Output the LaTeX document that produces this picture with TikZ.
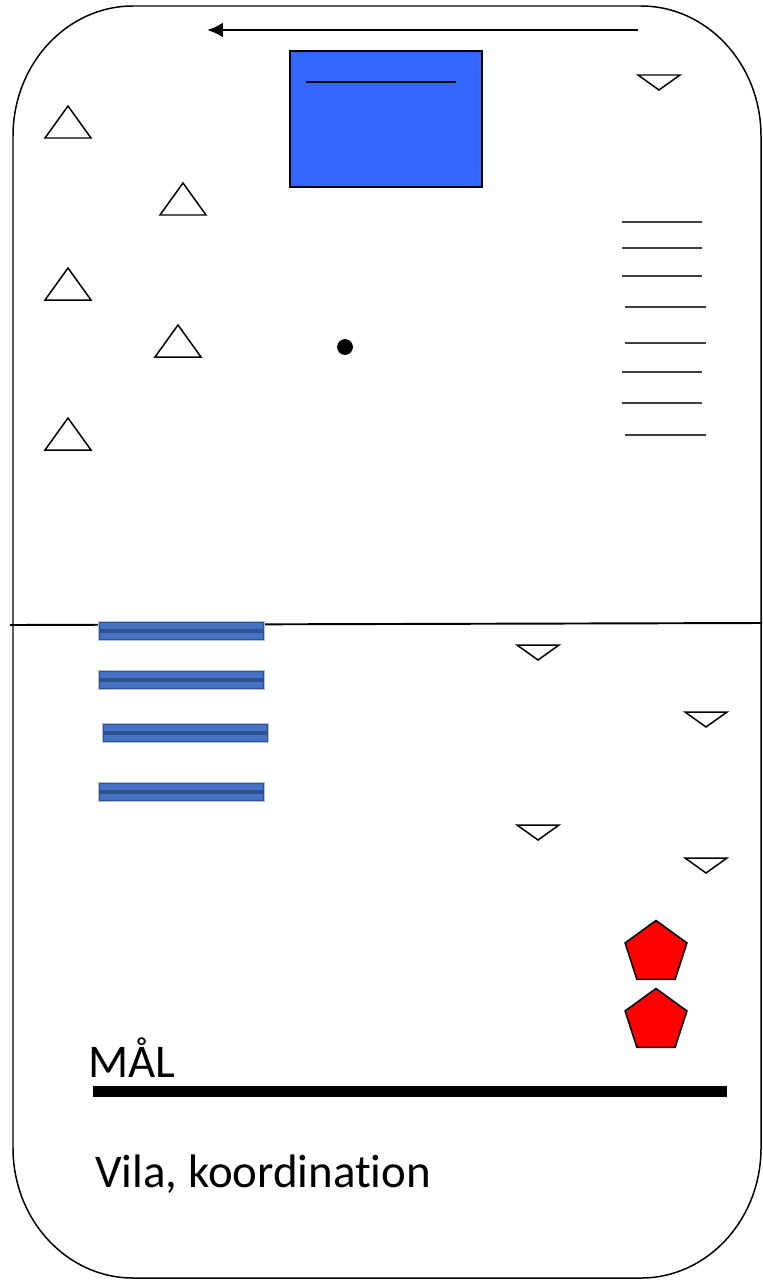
\documentclass[tikz,border=0pt]{standalone}
\usepackage{fontspec}
\setmainfont{Carlito}[RawFeature={-liga,-calt,-dlig,-clig}]
\usetikzlibrary{arrows.meta,shapes.geometric}
\definecolor{padBlue}{HTML}{3366FF}
\definecolor{benchBlue}{HTML}{4472C4}
\definecolor{benchEdge}{HTML}{2F528F}
\definecolor{benchLight}{HTML}{B4C3DE}
\definecolor{coneRed}{HTML}{FF0000}

\begin{document}
\begin{tikzpicture}[x=0.02cm, y=-0.02cm,
    upcone/.style={draw, line width=0.85pt, fill=white},
    flatcone/.style={draw, line width=0.85pt, fill=white},
    benchbar/.style={fill=benchBlue, draw=benchEdge, line width=0.75pt},
    redcone/.style={draw, line width=0.9pt, fill=coneRed, regular polygon, regular polygon sides=5, minimum size=1.3cm, inner sep=0pt, outer sep=0pt},
    fieldtext/.style={anchor=base west, inner sep=0pt, font=\fontsize{26.7}{32}\selectfont}]
  \useasboundingbox (0,0) rectangle (762,1281);

  % field outline
  \draw[line width=0.85pt] (133,6) -- (641,6) .. controls (707,6) and (761,64) .. (761,136) -- (761,1148) .. controls (761,1220) and (707,1278) .. (641,1278) -- (133,1278) .. controls (67,1278) and (13,1220) .. (13,1148) -- (13,136) .. controls (13,64) and (67,6) .. (133,6) -- cycle;
  \draw[line width=1.1pt] (10,625) -- (762,623);

  % direction of play
  \coordinate (runStart) at (638,30);
  \coordinate (runEnd) at (207,30);
  \draw[-{Latex[length=9pt,width=8.5pt]}, line width=1.7pt] (runStart) -- (runEnd);

  % mat
  \draw[fill=padBlue, line width=1.1pt] (290,51) rectangle (482,187);
  \draw[line width=1.1pt] (306,82) -- (456,82);

  % cones
  \foreach \x/\y in {68/106, 183/183, 68/268, 178/325, 68/418}
    \draw[upcone] (\x,\y) -- ++(23,32) -- ++(-46,0) -- cycle;
  \foreach \x/\y in {659/75, 538/645, 706/712, 538/825, 706/858}
    \draw[flatcone] (\x-21,\y) -- ++(42,0) -- ++(-21,15) -- cycle;

  \fill (345,347) circle[radius=4.5pt];

  % ladder
  \foreach \xa/\xb/\y in {622/702/222, 622/702/248, 622/702/276, 625/706/307, 625/706/343, 622/702/372, 622/702/403, 625/706/435}
    \draw[line width=0.8pt, black!75] (\xa,\y) -- (\xb,\y);

  % benches
  \foreach \x/\y in {99/622, 99/671, 103/724, 99/783} {
    \fill[benchLight] (\x-1,\y-1) rectangle ++(167,20);
    \draw[benchbar] (\x+0.5,\y+0.5) rectangle ++(164,7.5);
    \draw[benchbar] (\x+0.5,\y+10) rectangle ++(164,7.5);
  }

  \node[redcone] (cone1) at (656,953) {};
  \node[redcone] (cone2) at (656,1021) {};

  % goal
  \fill (93,1086) rectangle (727,1097);
  \node[fieldtext] (goal) at (88,1077) {MÅL};
  \node[fieldtext] (title) at (95,1187) {Vila, koordination};
\end{tikzpicture}
\end{document}
